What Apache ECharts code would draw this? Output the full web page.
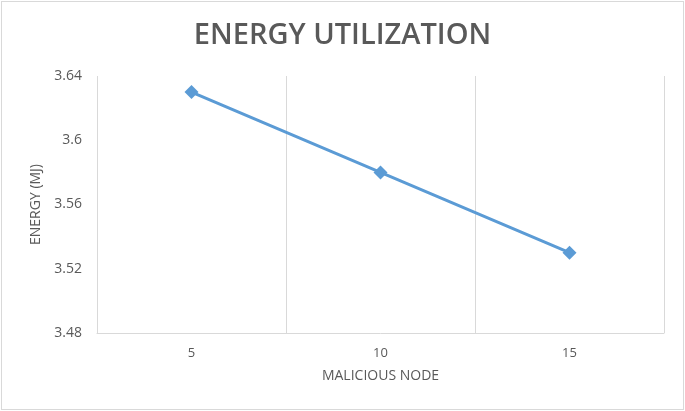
<!DOCTYPE html>
<html>
<head>
<meta charset="utf-8">
<script src="https://cdn.jsdelivr.net/npm/echarts@6/dist/echarts.min.js"></script>
<style>
html,body{margin:0;padding:0;background:#fff;}
#wrap{position:absolute;left:1px;top:1px;width:681px;height:407px;border:1px solid #d9d9d9;}
#c{width:681px;height:407px;}
</style>
</head>
<body>
<div id="wrap"><div id="c"></div></div>
<script>
const categories = ['5', '10', '15'];
const energy = [3.63, 3.58, 3.53];
const yTicks = [3.48, 3.52, 3.56, 3.6, 3.64];

const chart = echarts.init(document.getElementById('c'));
const txt = '#595959';
chart.setOption({
  animation: false,
  title: {
    text: 'ENERGY UTILIZATION',
    left: 'center',
    top: 14,
    textStyle: {fontFamily: 'Open Sans', fontSize: 29, fontWeight: 600, color: txt}
  },
  grid: {left: 95, right: 19, top: 74, bottom: 76, containLabel: false},
  xAxis: {
    type: 'category',
    data: categories,
    boundaryGap: true,
    name: 'MALICIOUS NODE',
    nameLocation: 'middle',
    nameGap: 36,
    nameTextStyle: {fontFamily: 'Open Sans', fontSize: 14, color: txt},
    axisLine: {show: true, lineStyle: {color: '#d9d9d9', width: 1}},
    axisTick: {show: false},
    axisLabel: {fontFamily: 'Open Sans', fontSize: 13, color: txt, margin: 14},
    splitLine: {show: true, lineStyle: {color: '#d9d9d9', width: 1}}
  },
  yAxis: {
    type: 'value',
    min: yTicks[0],
    max: yTicks[yTicks.length - 1],
    interval: 0.04,
    name: 'ENERGY (MJ)',
    nameLocation: 'middle',
    nameGap: 54,
    nameTextStyle: {fontFamily: 'Open Sans', fontSize: 14, color: txt},
    axisLine: {show: false},
    axisTick: {show: false},
    axisLabel: {fontFamily: 'Open Sans', fontSize: 14, color: txt, margin: 15,
      formatter: v => String(parseFloat(v.toFixed(2)))},
    splitLine: {show: false}
  },
  series: [{
    type: 'line',
    data: energy,
    symbol: 'diamond',
    symbolSize: 14,
    lineStyle: {color: '#5b9bd5', width: 3},
    itemStyle: {color: '#5b9bd5'}
  }]
});
</script>
</body>
</html>
